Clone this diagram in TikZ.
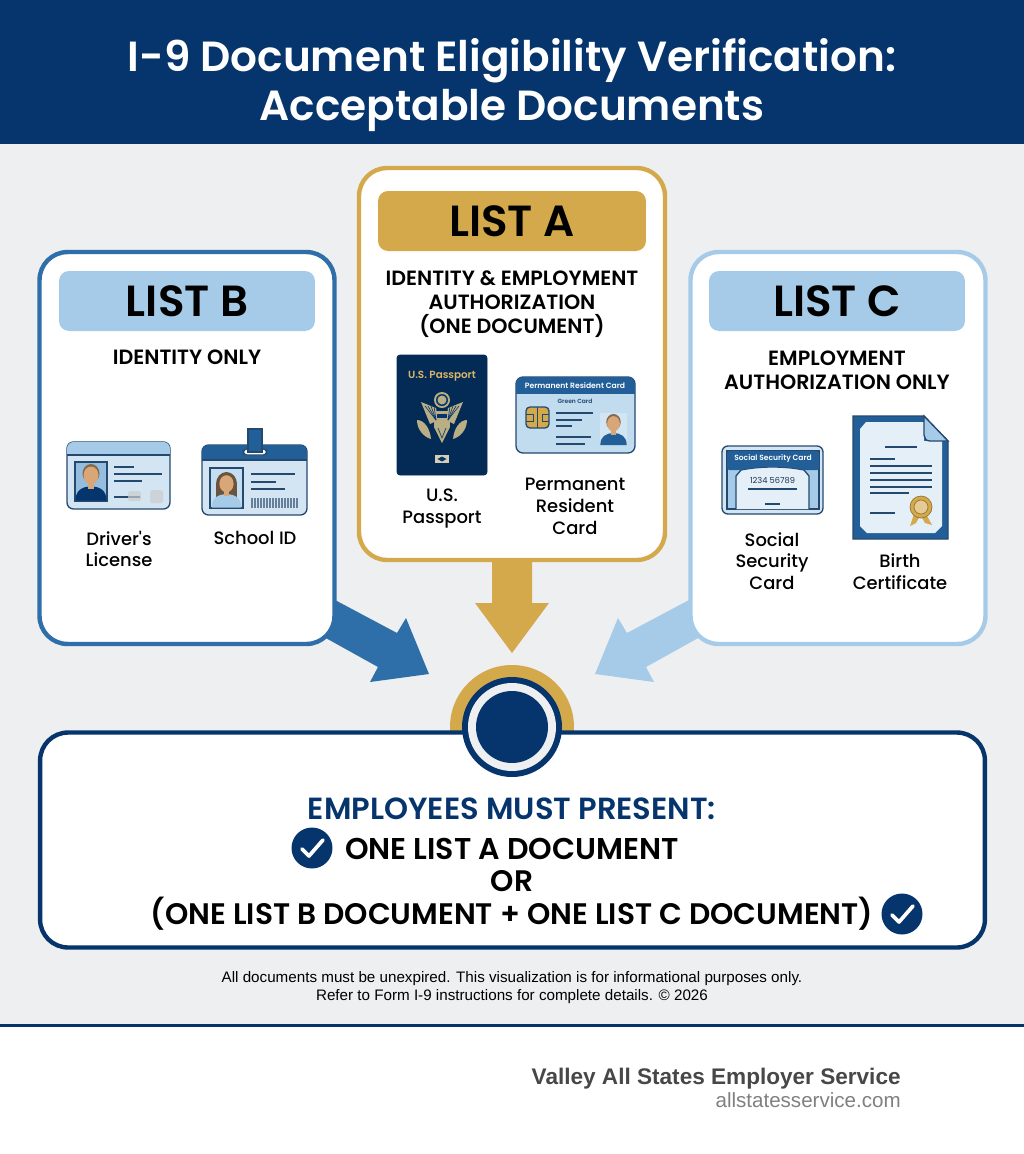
\documentclass[tikz,border=0pt]{standalone}
\usepackage{fontspec}
\setmainfont{Poppins}[BoldFont={Poppins SemiBold}]
\newfontfamily\notefont{Liberation Sans}
\newfontfamily\labelfont{Poppins Medium}
\definecolor{navy}{HTML}{05356C}
\definecolor{midblue}{HTML}{2F6FA9}
\definecolor{paleblue}{HTML}{A6CBE8}
\definecolor{cardblue}{HTML}{D3E4F3}
\definecolor{gold}{HTML}{D3A94B}
\definecolor{pagegray}{HTML}{EDEFF1}
\definecolor{inkline}{HTML}{24496F}
\definecolor{skin}{HTML}{D9A678}
\definecolor{hair}{HTML}{84694C}
\definecolor{greygold}{HTML}{B9AE84}
\newcommand{\fsz}[1]{\fontsize{#1}{#1}\selectfont}
\newcommand{\personicon}[5]{% x, y of the foot, hair colour, shirt colour, scale
	\begin{scope}[shift={(#1,#2)}, scale=#5]
		\fill[#4] (-15.5,0) .. controls (-15.5,-10) and (-9,-14) .. (0,-14) .. controls (9,-14) and (15.5,-10) .. (15.5,0) -- cycle;
		\fill[#3] (0,-27) ellipse [x radius=8.5, y radius=9.5];
		\fill[skin] (-3,-20) rectangle (3,-12);
		\fill[skin] (0,-25) ellipse [x radius=7.5, y radius=9];
	\end{scope}
}
\tikzset{
	panel/.style={draw, fill=white, line width=2.5pt, rounded corners=0.56cm, minimum width=5.9cm, minimum height=7.84cm},
	listhead/.style={rounded corners=0.2cm, minimum width=5.12cm, minimum height=1.2cm, inner sep=0pt, font=\fsz{24.8}\bfseries, text=black},
	subhead/.style={align=center, font=\fontsize{11.75}{13.6}\selectfont\bfseries, inner sep=0pt},
	doclabel/.style={align=center, font=\labelfont\fontsize{10.2}{12.4}\selectfont, inner sep=0pt},
	resultline/.style={text=black, inner sep=0pt, font=\fsz{16.9}\bfseries},
	cardline/.style={inkline, line width=0.65pt},
	carddraw/.style={draw=inkline, line width=0.75pt},
	featherline/.style={navy, line width=0.35pt},
	checkdisc/.style={circle, fill=navy, minimum size=0.82cm, inner sep=0pt},
	checkmark/.style={white, line width=2.1pt, line cap=round, line join=round}
}
\begin{document}
\begin{tikzpicture}[x=0.02cm, y=-0.02cm]
	\useasboundingbox (0,0) rectangle (1024,1154);
	\fill[white] (0,0) rectangle (1024,1154);
	\fill[pagegray] (0,144) rectangle (1024,1025);
	\fill[navy] (0,0) rectangle (1024,144);
	\fill[navy] (0,1023.5) rectangle (1024,1026.5);
	\node[align=center, text=white, inner sep=0pt, font=\fontsize{24}{28.4}\selectfont\bfseries] (title) at (512,85) {I-9 Document Eligibility Verification:\\Acceptable Documents};

	% arrows sit behind the panels
	\fill[gold] (492,550) -- (492,603) -- (475,603) -- (512,653) -- (549,603) -- (532,603) -- (532,550) -- cycle;
	\fill[midblue] (320,592) -- (397,633) -- (406,618) -- (429,674) -- (370,682) -- (378,667) -- (315,632) -- cycle;
	\fill[paleblue] (704,592) -- (627,633) -- (618,618) -- (595,674) -- (654,682) -- (646,667) -- (709,632) -- cycle;

	\node[panel, draw=midblue] (listB) at (187,448) {};
	\node[panel, draw=gold, minimum width=6.12cm] (listA) at (512,364) {};
	\node[panel, draw=paleblue] (listC) at (838,448) {};

	\node[listhead, fill=paleblue] (headB) at (187,301) {LIST B};
	\node[listhead, fill=gold, minimum width=5.36cm] (headA) at (512,221) {LIST A};
	\node[listhead, fill=paleblue] (headC) at (837,301) {LIST C};

	\node[subhead] (subB) at (187,357) {IDENTITY ONLY};
	\node[subhead] (subA) at (512,304) {IDENTITY \& EMPLOYMENT\\AUTHORIZATION\\(ONE DOCUMENT)};
	\node[subhead] (subC) at (837,370) {EMPLOYMENT\\AUTHORIZATION ONLY};

	% driver's license
	\filldraw[carddraw, fill=cardblue, rounded corners=0.13cm] (67,442) rectangle (170,509);
	\begin{scope}
		\clip[rounded corners=0.13cm] (67,442) rectangle (170,509);
		\fill[paleblue] (67,442) rectangle (170,455);
	\end{scope}
	\draw[cardline] (67,455) -- (170,455);
	\filldraw[carddraw, fill=paleblue!85!midblue] (75,462) rectangle (107,501);
	\personicon{91}{500.5}{hair}{navy}{1}
	\draw[cardline] (114,467) -- (134,467);
	\draw[cardline] (114,474) -- (162,474);
	\draw[cardline] (114,481) -- (142,481);
	\draw[cardline] (114,497) -- (140,497);
	\fill[gray!40, opacity=0.7, rounded corners=1pt] (128,491) rectangle (141,501);
	\fill[gray!40, opacity=0.7, rounded corners=1pt] (150,490) rectangle (163,503);

	% school id
	\filldraw[carddraw, fill=cardblue, rounded corners=0.13cm] (202,445) rectangle (307,515);
	\begin{scope}
		\clip[rounded corners=0.13cm] (202,445) rectangle (307,515);
		\fill[midblue!70!navy] (202,445) rectangle (307,460);
	\end{scope}
	\draw[cardline] (202,460) -- (307,460);
	\filldraw[draw=inkline, fill=white, line width=0.6pt, rounded corners=2pt] (243.5,449) rectangle (266.5,455);
	\filldraw[carddraw, fill=midblue!70!navy] (248,429) rectangle (262,452);
	\filldraw[carddraw, fill=cardblue!70!paleblue] (210,468) rectangle (243,508);
	\begin{scope}
		\clip (210,468) rectangle (243,508);
		\fill[hair!80!black] (226.5,484) ellipse [x radius=10.5, y radius=12];
		\fill[hair!80!black] (216,484) rectangle (237,498);
	\end{scope}
	\personicon{226.5}{507.5}{hair!80!black}{paleblue}{0.95}
	\draw[cardline] (251,474) -- (295,474);
	\draw[cardline] (251,482) -- (276,482);
	\draw[cardline] (251,489) -- (285,489);
	\foreach \barx in {251,252.5,...,298}
		\draw[inkline!70, line width=0.5pt] (\barx,498) -- (\barx,508);

	\node[doclabel] (labelDL) at (119,549) {Driver's\\License};
	\node[doclabel] (labelSID) at (255,538) {School ID};

	% passport
	\filldraw[navy!80!black, rounded corners=0.06cm] (397,355) rectangle (487,475);
	\node[text=gold!85!white, inner sep=0pt, font=\fsz{5.9}\bfseries] (passName) at (442,376) {U.S. Passport};
	\begin{scope}[greygold]
		\fill (442,400) circle (8);
		\fill[navy] (442,400) circle (6);
		\fill (442,400) circle (4.5);
		\fill (421,402) -- (436,408) -- (438,420) -- (430,424) -- cycle;
		\fill (463,402) -- (448,408) -- (446,420) -- (454,424) -- cycle;
		\fill (434,411) rectangle (450,427);
		\fill (434,427) -- (442,443) -- (450,427) -- cycle;
		\fill (417,420) .. controls (424,420) and (430,428) .. (431,439) .. controls (424,437) and (417,430) .. (417,420) -- cycle;
		\fill (467,420) .. controls (460,420) and (454,428) .. (453,439) .. controls (460,437) and (467,430) .. (467,420) -- cycle;
		\fill[navy] (437,414) rectangle (447,418);
	\end{scope}
	\foreach \wingx in {425,428,431,434}
		\draw[featherline] (\wingx,406) -- (436,420);
	\foreach \wingx in {459,456,453,450}
		\draw[featherline] (\wingx,406) -- (448,420);
	\draw[featherline] (438,428) -- (442,438) -- (446,428);
	\fill[greygold!60!white] (435,455) rectangle (449,463);
	\fill[navy] (442,456.5) -- (446.5,459) -- (442,461.5) -- (437.5,459) -- cycle;

	% permanent resident card
	\filldraw[carddraw, fill=paleblue!70!white, rounded corners=0.14cm] (516,377) rectangle (635,453);
	\begin{scope}
		\clip[rounded corners=0.14cm] (516,377) rectangle (635,453);
		\fill[midblue!70!navy] (516,377) rectangle (635,394);
	\end{scope}
	\node[text=white, inner sep=0pt, font=\fsz{4.35}\bfseries] (cardName) at (575,385.5) {Permanent Resident Card};
	\node[text=inkline, inner sep=0pt, font=\fsz{3.4}\bfseries] (greenName) at (575,401) {Green Card};
	\filldraw[carddraw, fill=gold, rounded corners=0.08cm] (526,407) rectangle (549,428);
	\draw[inkline, line width=0.5pt] (526,414) -- (533,414) -- (533,421) -- (526,421);
	\draw[inkline, line width=0.5pt] (549,414) -- (542,414) -- (542,421) -- (549,421);
	\draw[inkline, line width=0.5pt] (537.5,407) -- (537.5,428);
	\draw[cardline] (556,413) -- (593,413);
	\draw[cardline] (556,420) -- (582,420);
	\draw[cardline] (556,426) -- (572,426);
	\draw[cardline] (556,437) -- (591,437);
	\draw[cardline] (556,444) -- (585,444);
	\fill[cardblue] (600,413) rectangle (627,445);
	\personicon{613.5}{445}{hair}{midblue!70!navy}{0.85}

	% social security card
	\filldraw[carddraw, fill=cardblue, rounded corners=0.12cm] (722,446) rectangle (823,514);
	\fill[paleblue] (727,451) rectangle (819,509);
	\draw[cardline] (727,451) rectangle (819,509);
	\filldraw[carddraw, fill=cardblue!60!white] (736,509) -- (736,476) -- (741,470) .. controls (760,466) and (785,466) .. (804,470) -- (809,476) -- (809,509);
	\fill[midblue!70!navy, rounded corners=1pt] (727,451) -- (819,451) -- (819,470) -- (804,470) .. controls (785,466) and (760,466) .. (741,470) -- (727,470) -- cycle;
	\node[text=white, inner sep=0pt, font=\fsz{4.3}\bfseries] (ssName) at (773,459) {Social Security Card};
	\node[text=inkline!70!black, inner sep=0pt, font=\fsz{4.7}] (ssNumber) at (772.5,481) {1234 56789};
	\draw[cardline] (748,489) -- (797,489);
	\draw[cardline] (765,504) -- (780,504);

	% birth certificate
	\filldraw[carddraw, fill=midblue!70!navy] (853,416) -- (924,416) -- (948,441) -- (948,539) -- (853,539) -- cycle;
	\fill[cardblue!60!white] (866,422) -- (924,422) -- (924,441) -- (942,441) -- (942,526) -- (935,533) -- (867,533) -- (860,526) -- (860,429) -- cycle;
	\filldraw[carddraw, fill=paleblue] (924,416) -- (948,441) -- (930,441) .. controls (926,441) and (924,438) .. (924,435) -- cycle;
	\draw[cardline] (885,447) -- (917,447);
	\draw[cardline] (870,459) -- (895,459);
	\foreach \liney in {466,473,480,487}
		\draw[cardline] (870,\liney) -- (932,\liney);
	\draw[cardline] (870,493) -- (909,493);
	\draw[cardline] (870,513) -- (895,513);
	\fill[gold] (914,514) -- (910,526) -- (916,523) -- (920,516) -- cycle;
	\fill[gold] (926,514) -- (932,525) -- (925,523) -- (921,516) -- cycle;
	\filldraw[draw=gold!70!black, line width=0.4pt, fill=gold] (921,507) circle (11);
	\filldraw[draw=gold!70!black, line width=0.4pt, fill=gold!60!white] (921,507) circle (7);

	\node[doclabel] (labelPP) at (442,508.5) {U.S.\\Passport};
	\node[doclabel] (labelPRC) at (575,506.5) {Permanent\\Resident\\Card};
	\node[doclabel] (labelSS) at (772,561) {Social\\Security\\Card};
	\node[doclabel] (labelBC) at (900,572) {Birth\\Certificate};

	% result panel and seal
	\begin{scope}
		\clip (400,600) rectangle (624,732);
		\fill[gold] (512,727) circle (62);
	\end{scope}
	\node[panel, draw=navy, minimum width=18.9cm, minimum height=4.3cm] (result) at (512.5,840) {};
	\fill[navy] (512,727) circle (50);
	\fill[pagegray] (512,727) circle (44);
	\fill[navy] (512,727) circle (36);

	\node[resultline, text=navy, font=\fsz{17.4}\bfseries] (mustLine) at (512,809) {EMPLOYEES MUST PRESENT:};
	\node[checkdisc] (checkA) at (312,848) {};
	\draw[checkmark] ([shift={(-10,1)}]checkA.center) -- ([shift={(-3,8)}]checkA.center) -- ([shift={(11,-8)}]checkA.center);
	\node[resultline, font=\fsz{17.1}\bfseries] (lineA) at (512,849) {ONE LIST A DOCUMENT};
	\node[resultline] (lineOr) at (512,881) {OR};
	\node[resultline] (lineBC) at (512,914) {(ONE LIST B DOCUMENT + ONE LIST C DOCUMENT)};
	\node[checkdisc] (checkB) at (902,914) {};
	\draw[checkmark] ([shift={(-10,1)}]checkB.center) -- ([shift={(-3,8)}]checkB.center) -- ([shift={(11,-8)}]checkB.center);

	\node[align=center, inner sep=0pt, font=\notefont\fontsize{8.65}{9.8}\selectfont] (note) at (512,987.5) {All documents must be unexpired. This visualization is for informational purposes only.\\Refer to Form I-9 instructions for complete details. © 2026};

	\node[anchor=east, inner sep=0pt, text=black!72, font=\notefont\fontsize{12.85}{13}\selectfont\bfseries] (brand) at (901,1079) {Valley All States Employer Service};
	\node[anchor=east, inner sep=0pt, text=black!50, font=\notefont\fontsize{11.7}{11.7}\selectfont] (site) at (901,1100) {allstatesservice.com};
\end{tikzpicture}
\end{document}
